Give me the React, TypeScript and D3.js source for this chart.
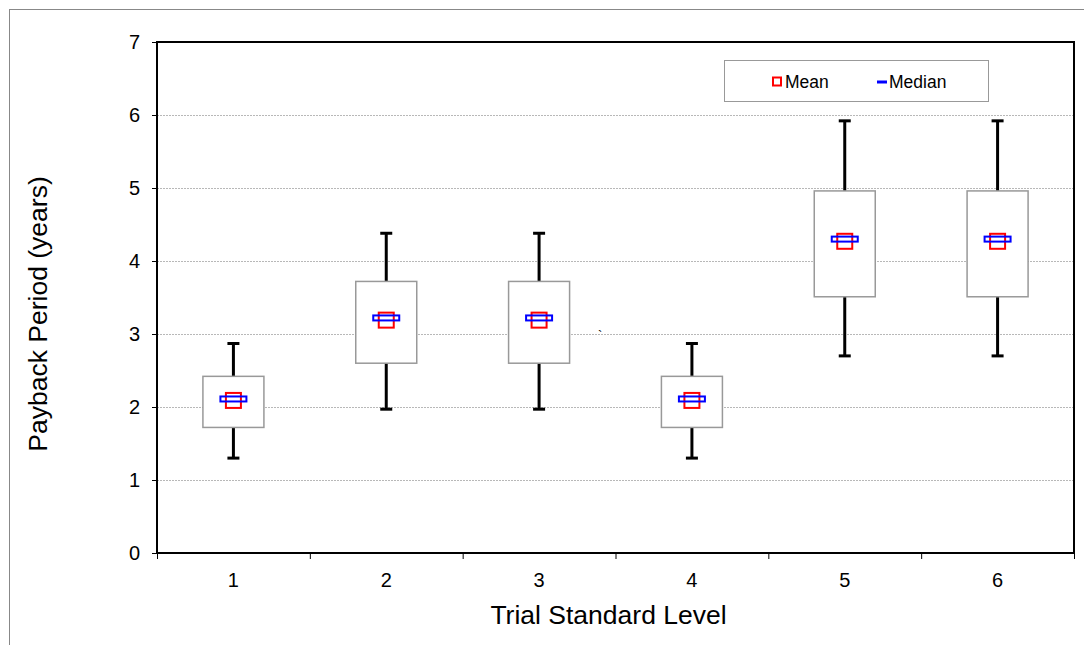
import React, { useEffect, useRef } from 'react';
import * as d3 from 'd3';

const levels = ['1', '2', '3', '4', '5', '6'];
const lowWhisker = [1.3, 1.97, 1.97, 1.3, 2.7, 2.7];
const q1 = [1.72, 2.6, 2.6, 1.72, 3.51, 3.51];
const medians = [2.11, 3.22, 3.22, 2.11, 4.3, 4.3];
const means = [2.09, 3.19, 3.19, 2.09, 4.27, 4.27];
const q3 = [2.42, 3.72, 3.72, 2.42, 4.96, 4.96];
const highWhisker = [2.87, 4.38, 4.38, 2.87, 5.92, 5.92];
const yTicks = [0, 1, 2, 3, 4, 5, 6, 7];

const W = 1084, H = 645;
const margin = { top: 42, right: 10, bottom: 92, left: 157 };

export default function App() {
  const ref = useRef<SVGSVGElement>(null);

  useEffect(() => {
    const svg = d3.select(ref.current);
    svg.selectAll('*').remove();
    const font = 'Arial, "Liberation Sans", sans-serif';

    // outer frame
    svg.append('rect')
      .attr('x', 9.5).attr('y', 9.5).attr('width', W + 20).attr('height', H + 20)
      .attr('fill', 'none').attr('stroke', '#888');

    const x = d3.scaleBand().domain(levels).range([margin.left, W - margin.right]);
    const y = d3.scaleLinear().domain([0, 7]).range([H - margin.bottom, margin.top]);

    // gridlines
    svg.append('g').selectAll('line').data(yTicks.filter(d => d > 0 && d < 7)).enter()
      .append('line')
        .attr('x1', margin.left).attr('x2', W - margin.right)
        .attr('y1', d => y(d) + 0.5).attr('y2', d => y(d) + 0.5)
        .attr('stroke', '#b8b8b8').attr('stroke-dasharray', '2,1');

    // y axis ticks + labels
    const yAxis = svg.append('g');
    yAxis.selectAll('line').data(yTicks).enter().append('line')
      .attr('x1', margin.left - 5).attr('x2', margin.left)
      .attr('y1', d => y(d) + 0.5).attr('y2', d => y(d) + 0.5)
      .attr('stroke', '#000');
    yAxis.selectAll('text').data(yTicks).enter().append('text')
      .attr('x', margin.left - 17).attr('y', d => y(d) + 7)
      .attr('text-anchor', 'end').attr('font-family', font).attr('font-size', 20)
      .text(d => d);

    // x axis ticks + labels
    const xAxis = svg.append('g');
    const bounds = levels.map(l => x(l)!).concat([W - margin.right]);
    xAxis.selectAll('line').data(bounds).enter().append('line')
      .attr('x1', d => d + 0.5).attr('x2', d => d + 0.5)
      .attr('y1', y(0)).attr('y2', y(0) + 6)
      .attr('stroke', '#000');
    xAxis.selectAll('text').data(levels).enter().append('text')
      .attr('x', d => x(d)! + x.bandwidth() / 2).attr('y', y(0) + 33.5)
      .attr('text-anchor', 'middle').attr('font-family', font).attr('font-size', 20)
      .text(d => d);

    // plot area border
    svg.append('rect')
      .attr('x', margin.left).attr('y', margin.top)
      .attr('width', W - margin.right - margin.left).attr('height', y(0) - margin.top)
      .attr('fill', 'none').attr('stroke', '#000').attr('stroke-width', 2);

    // boxes
    const boxW = 61, capW = 12;
    const g = svg.append('g').selectAll('g').data(levels).enter().append('g')
      .attr('transform', d => 'translate(' + (x(d)! + x.bandwidth() / 2) + ',0)');

    g.append('line')
      .attr('x1', 0).attr('x2', 0)
      .attr('y1', (d, i) => y(highWhisker[i])).attr('y2', (d, i) => y(lowWhisker[i]))
      .attr('stroke', '#000').attr('stroke-width', 3);
    g.append('line')
      .attr('x1', -capW / 2).attr('x2', capW / 2)
      .attr('y1', (d, i) => y(highWhisker[i])).attr('y2', (d, i) => y(highWhisker[i]))
      .attr('stroke', '#000').attr('stroke-width', 3);
    g.append('line')
      .attr('x1', -capW / 2).attr('x2', capW / 2)
      .attr('y1', (d, i) => y(lowWhisker[i])).attr('y2', (d, i) => y(lowWhisker[i]))
      .attr('stroke', '#000').attr('stroke-width', 3);
    g.append('rect')
      .attr('x', -boxW / 2).attr('width', boxW)
      .attr('y', (d, i) => y(q3[i])).attr('height', (d, i) => y(q1[i]) - y(q3[i]))
      .attr('fill', '#fff').attr('stroke', '#999').attr('stroke-width', 1.5);
    g.append('rect')
      .attr('x', -7.5).attr('width', 15)
      .attr('y', (d, i) => y(means[i]) - 7.5).attr('height', 15)
      .attr('fill', 'none').attr('stroke', '#ff0000').attr('stroke-width', 2);
    g.append('rect')
      .attr('x', -13).attr('width', 26)
      .attr('y', (d, i) => y(medians[i]) - 2.5).attr('height', 5)
      .attr('fill', 'none').attr('stroke', '#0000ff').attr('stroke-width', 2);

    // stray mark
    svg.append('text').attr('x', 598).attr('y', 340)
      .attr('font-family', font).attr('font-size', 13).text('`');

    // legend
    const lg = svg.append('g');
    lg.append('rect').attr('x', 724.5).attr('y', 60.5).attr('width', 264).attr('height', 41)
      .attr('fill', '#fff').attr('stroke', '#999');
    lg.append('rect').attr('x', 773).attr('y', 77.5).attr('width', 8).attr('height', 8)
      .attr('fill', 'none').attr('stroke', '#ff0000').attr('stroke-width', 2);
    lg.append('text').attr('x', 785).attr('y', 88).attr('font-family', font).attr('font-size', 17.5).text('Mean');
    lg.append('line').attr('x1', 877).attr('x2', 887).attr('y1', 82).attr('y2', 82)
      .attr('stroke', '#0000ff').attr('stroke-width', 3);
    lg.append('text').attr('x', 889).attr('y', 88).attr('font-family', font).attr('font-size', 17.5).text('Median');

    // axis titles
    svg.append('text')
      .attr('transform', 'translate(47,314) rotate(-90)')
      .attr('text-anchor', 'middle').attr('font-family', font).attr('font-size', 26.5)
      .text('Payback Period (years)');
    svg.append('text')
      .attr('x', 608.5).attr('y', 624)
      .attr('text-anchor', 'middle').attr('font-family', font).attr('font-size', 26.5)
      .text('Trial Standard Level');
  }, []);

  return (
    <svg ref={ref} width={W} height={H}
      style={{ position: 'absolute', left: 0, top: 0, background: '#fff' }} />
  );
}
